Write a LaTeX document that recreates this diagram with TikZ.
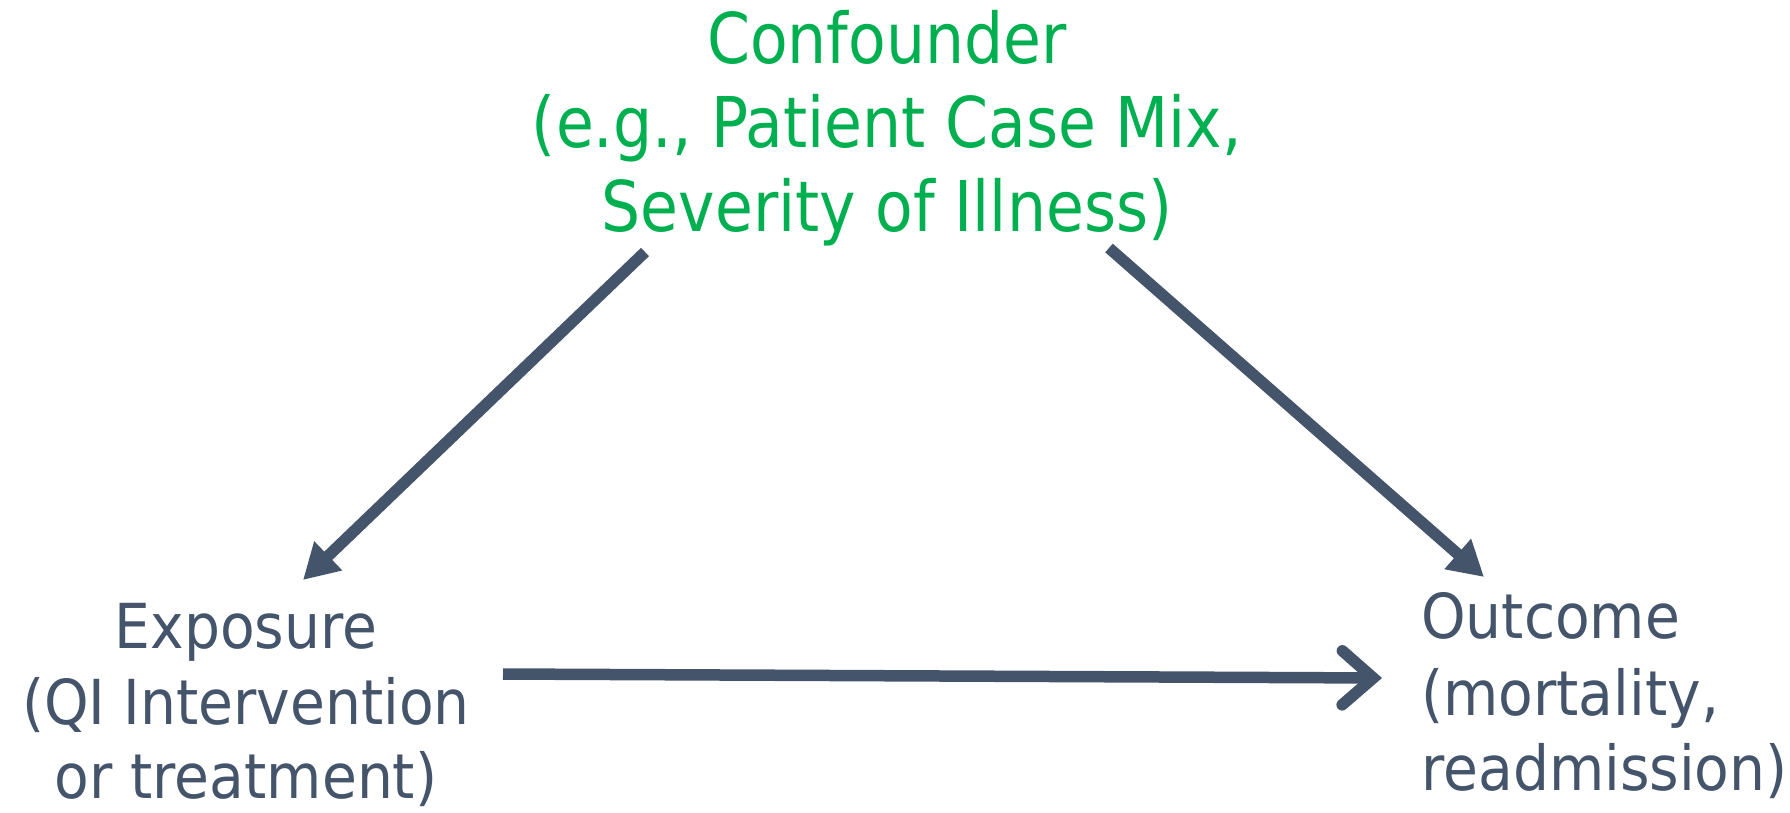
\documentclass[tikz,border=0pt]{standalone}
\usepackage{fontspec}
\usetikzlibrary{arrows.meta}
\newfontfamily\conffont[FakeStretch=0.88]{DejaVu Sans}
\newfontfamily\varfont[FakeStretch=0.915]{DejaVu Sans}
\definecolor{confgreen}{HTML}{00B050}
\definecolor{slate}{HTML}{44546A}
\begin{document}
\begin{tikzpicture}[x=1pt,y=-1pt,
  conftext/.style={font=\conffont\fontsize{70}{84}\selectfont, text=confgreen, inner sep=0pt, anchor=base},
  vartext/.style={font=\varfont\fontsize{62}{75}\selectfont, text=slate, inner sep=0pt},
  causal/.style={draw=slate, line width=11.5pt, line cap=butt,
    -{Triangle[length=35pt,width=38pt]}},
  direct/.style={draw=slate, line width=11.5pt, line cap=butt,
    -{Straight Barb[length=31pt,width=54pt,line cap=round,line join=miter]}}]
\path[use as bounding box, fill=white] (0,0) rectangle (1790,812);

% confounder label
\node[conftext] (conf1) at (887,63)  {Confounder};
\node[conftext] (conf2) at (887,147) {(e.g., Patient Case Mix,};
\node[conftext] (conf3) at (887,231) {Severity of Illness)};

% exposure label (centred lines)
\node[vartext, anchor=base] (exp1) at (246,648) {Exposure};
\node[vartext, anchor=base] (exp2) at (246,724) {(QI Intervention};
\node[vartext, anchor=base] (exp3) at (246,798) {or treatment)};

% outcome label (left aligned lines)
\node[vartext, anchor=base west] (out1) at (1421,638) {Outcome};
\node[vartext, anchor=base west] (out2) at (1421,715) {(mortality,};
\node[vartext, anchor=base west] (out3) at (1421,790) {readmission)};

% arrow end points
\coordinate (conf-left)  at (645,252);
\coordinate (exp-tip)    at (303,580);
\coordinate (conf-right) at (1109,248);
\coordinate (out-tip)    at (1484,577);
\coordinate (exp-right)  at (503,674);
\coordinate (out-left)   at (1382,678);

\draw[causal] (conf-left) -- (exp-tip);
\draw[causal] (conf-right) -- (out-tip);
\draw[direct] (exp-right) -- (out-left);
\end{tikzpicture}
\end{document}
